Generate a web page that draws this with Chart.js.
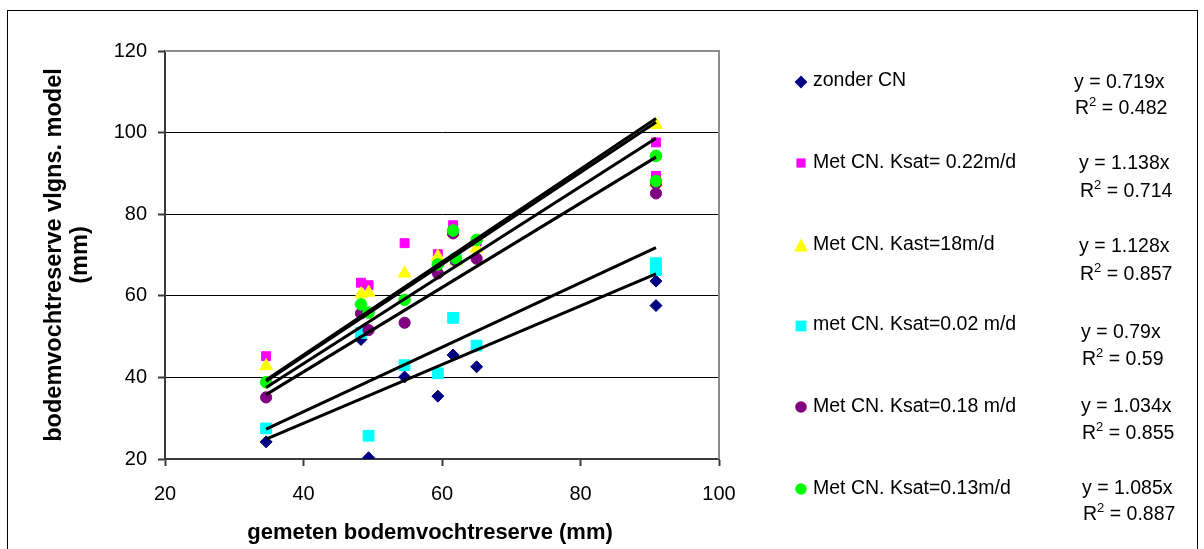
<!DOCTYPE html>
<html>
<head>
<meta charset="utf-8">
<script src="https://cdn.jsdelivr.net/npm/chart.js@4/dist/chart.umd.min.js"></script>
<style>
  html, body { margin: 0; padding: 0; background: #ffffff; }
  #wrap { width: 1204px; height: 549px; position: relative; }
</style>
</head>
<body>
<div id="wrap"><canvas id="c" width="1204" height="549"></canvas></div>
<script>
// Gemeten bodemvochtreserve (mm) per meetpunt
const gemeten = [34.6, 48.3, 49.4, 54.6, 59.4, 61.6, 62.0, 65.0, 90.9, 90.9];

// Modelwaarden (mm) per scenario, zelfde volgorde als 'gemeten'
const zonderCN   = [24.2, 49.3, 20.3, 40.1, 35.4, 45.5, null, 42.6, 63.6, 57.6];
const ksat022    = [45.2, 63.2, 62.6, 72.9, 70.2, 77.3, 69.0, 73.3, 97.6, 89.4];
const kast18     = [42.8, 60.4, 60.8, 65.5, 69.6, 75.6, 68.4, 71.6, 101.9, 87.8];
const ksat002    = [27.5, 50.9, 25.7, 43.0, 41.0, 54.6, 69.0, 47.8, 68.0, 66.3];
const ksat018    = [35.1, 55.7, 51.6, 53.4, 65.5, 75.3, 68.6, 69.1, 85.1, 87.5];
const ksat013    = [38.8, 57.9, 55.9, 59.0, 67.7, 76.0, 69.2, 73.7, 94.3, 88.1];

const seriesNames = [
  'zonder CN',
  'Met CN. Ksat= 0.22m/d',
  'Met CN. Kast=18m/d',
  'met CN. Ksat=0.02 m/d',
  'Met CN. Ksat=0.18 m/d',
  'Met CN. Ksat=0.13m/d'
];
const seriesValues = [zonderCN, ksat022, kast18, ksat002, ksat018, ksat013];

// Trendlijnen door de oorsprong: y = a·x
const slopes = [0.719, 1.138, 1.128, 0.79, 1.034, 1.085];
const rSquared = ['0.482', '0.714', '0.857', '0.59', '0.855', '0.887'];

const xTicks = [20, 40, 60, 80, 100];
const yTicks = [20, 40, 60, 80, 100, 120];

const xTitle = 'gemeten bodemvochtreserve (mm)';
const yTitle = ['bodemvochtreserve vlgns. model', '(mm)'];

const FONT = '"Liberation Sans", Arial, Helvetica, sans-serif';

const markerStyles = [
  { color: '#000080', shape: 'rectRot',  r: 6.0 },
  { color: '#FF00FF', shape: 'rect',     r: 6.3 },
  { color: '#FFFF00', shape: 'triangle', r: 7.4 },
  { color: '#00FFFF', shape: 'rect',     r: 7.6 },
  { color: '#800080', shape: 'circle',   r: 5.6 },
  { color: '#00FF00', shape: 'circle',   r: 5.8 }
];

const xMin = Math.min(...gemeten);
const xMax = Math.max(...gemeten);

const datasets = [];
seriesValues.forEach((vals, i) => {
  const st = markerStyles[i];
  datasets.push({
    type: 'scatter',
    label: seriesNames[i],
    data: gemeten.map((x, k) => ({ x: x, y: vals[k] })).filter(p => p.y !== null),
    pointStyle: st.shape,
    pointRadius: st.r,
    pointBackgroundColor: st.color,
    pointBorderColor: st.color,
    pointBorderWidth: 1,
    showLine: false,
    order: 20 - i
  });
});
slopes.forEach((a, i) => {
  datasets.push({
    type: 'line',
    label: 'trend ' + seriesNames[i],
    data: [{ x: xMin, y: a * xMin }, { x: xMax, y: a * xMax }],
    borderColor: '#000000',
    borderWidth: 3,
    pointRadius: 0,
    fill: false,
    order: 0
  });
});

// Plotkader (boven/rechts grijs), x-as titel en buitenrand van de figuur
const framePlugin = {
  id: 'frame',
  beforeDatasetsDraw(chart) {
    const { ctx, chartArea: a } = chart;
    ctx.save();
    ctx.strokeStyle = '#8c8c8c';
    ctx.lineWidth = 2;
    ctx.beginPath();
    ctx.moveTo(a.left, a.top);
    ctx.lineTo(a.right, a.top);
    ctx.lineTo(a.right, a.bottom);
    ctx.stroke();
    ctx.restore();
  },
  afterDraw(chart) {
    const { ctx } = chart;
    ctx.save();
    ctx.fillStyle = '#000000';
    ctx.font = 'bold 22px ' + FONT;
    ctx.textAlign = 'center';
    ctx.textBaseline = 'middle';
    ctx.fillText(xTitle, 430, 533);
    ctx.strokeStyle = '#000000';
    ctx.lineWidth = 1;
    ctx.strokeRect(7.5, 10.5, 1190, 600);
    ctx.restore();
  }
};

// Legenda met trendvergelijkingen rechts van de grafiek
const legendLayout = {
  markerX: 801,
  textX: 813,
  markerY: [82, 163, 246, 326, 407, 489],
  textY:   [81, 163, 245, 325, 407, 489],
  eqX:     [1074, 1079, 1079, 1081, 1081, 1082],
  eqY:     [83, 164, 247, 333, 407, 489],
  r2Y:     [109, 192, 275, 360, 434, 515]
};

function drawSwatch(ctx, shape, x, y, color) {
  ctx.fillStyle = color;
  ctx.beginPath();
  if (shape === 'rectRot') {
    const r = 6.4;
    ctx.moveTo(x - r, y); ctx.lineTo(x, y - r); ctx.lineTo(x + r, y); ctx.lineTo(x, y + r);
    ctx.closePath();
  } else if (shape === 'rect') {
    const h = color === '#FF00FF' ? 4.6 : 5.4;
    ctx.rect(x - h, y - h, 2 * h, 2 * h);
  } else if (shape === 'triangle') {
    ctx.moveTo(x, y - 7.5); ctx.lineTo(x + 7, y + 5.5); ctx.lineTo(x - 7, y + 5.5);
    ctx.closePath();
  } else {
    ctx.arc(x, y, 5.8, 0, Math.PI * 2);
  }
  ctx.fill();
}

const legendPlugin = {
  id: 'sideLegend',
  afterDraw(chart) {
    const { ctx } = chart;
    const L = legendLayout;
    ctx.save();
    ctx.textBaseline = 'middle';
    ctx.textAlign = 'left';
    seriesNames.forEach((name, i) => {
      drawSwatch(ctx, markerStyles[i].shape, L.markerX, L.markerY[i], markerStyles[i].color);
      ctx.fillStyle = '#000000';
      ctx.font = '19.5px ' + FONT;
      ctx.fillText(name, L.textX, L.textY[i]);
      ctx.fillText('y = ' + slopes[i] + 'x', L.eqX[i], L.eqY[i]);
      // R² met superscript
      let x = L.eqX[i] + 1;
      ctx.fillText('R', x, L.r2Y[i]);
      x += ctx.measureText('R').width;
      ctx.font = '13px ' + FONT;
      ctx.fillText('2', x, L.r2Y[i] - 7);
      x += ctx.measureText('2').width;
      ctx.font = '19.5px ' + FONT;
      ctx.fillText(' = ' + rSquared[i], x, L.r2Y[i]);
    });
    ctx.restore();
  }
};

new Chart(document.getElementById('c'), {
  type: 'scatter',
  data: { datasets: datasets },
  options: {
    responsive: false,
    animation: false,
    events: [],
    layout: { padding: { left: 0, right: 485, top: 51, bottom: 0 } },
    plugins: {
      legend: { display: false },
      tooltip: { enabled: false }
    },
    scales: {
      x: {
        type: 'linear',
        min: 20, max: 100,
        afterBuildTicks: s => { s.ticks = xTicks.map(v => ({ value: v })); },
        afterFit: s => { s.height = 90; },
        ticks: {
          color: '#000000',
          font: { family: FONT, size: 20 },
          padding: 16,
          maxRotation: 0,
          callback: v => String(v)
        },
        grid: {
          drawOnChartArea: false,
          drawTicks: true,
          tickLength: 7,
          tickColor: '#3a3a3a',
          tickWidth: 2
        },
        border: { display: true, color: '#3a3a3a', width: 2 },
        title: { display: false }
      },
      y: {
        type: 'linear',
        min: 20, max: 120,
        afterBuildTicks: s => { s.ticks = yTicks.map(v => ({ value: v })); },
        afterFit: s => { s.width = 165; },
        ticks: {
          color: '#000000',
          font: { family: FONT, size: 20 },
          padding: 11,
          callback: v => String(v)
        },
        grid: {
          color: c => (c.tick && c.tick.value === 120 ? '#8c8c8c' : '#000000'),
          lineWidth: 1,
          drawTicks: true,
          tickLength: 7,
          tickColor: '#3a3a3a',
          tickWidth: 2
        },
        border: { display: true, color: '#3a3a3a', width: 2 },
        title: {
          display: true,
          text: yTitle,
          color: '#000000',
          font: { family: FONT, size: 23.5, weight: 'bold', lineHeight: 1.1 },
          padding: { top: 42, bottom: 0 }
        }
      }
    }
  },
  plugins: [framePlugin, legendPlugin]
});
</script>
</body>
</html>
